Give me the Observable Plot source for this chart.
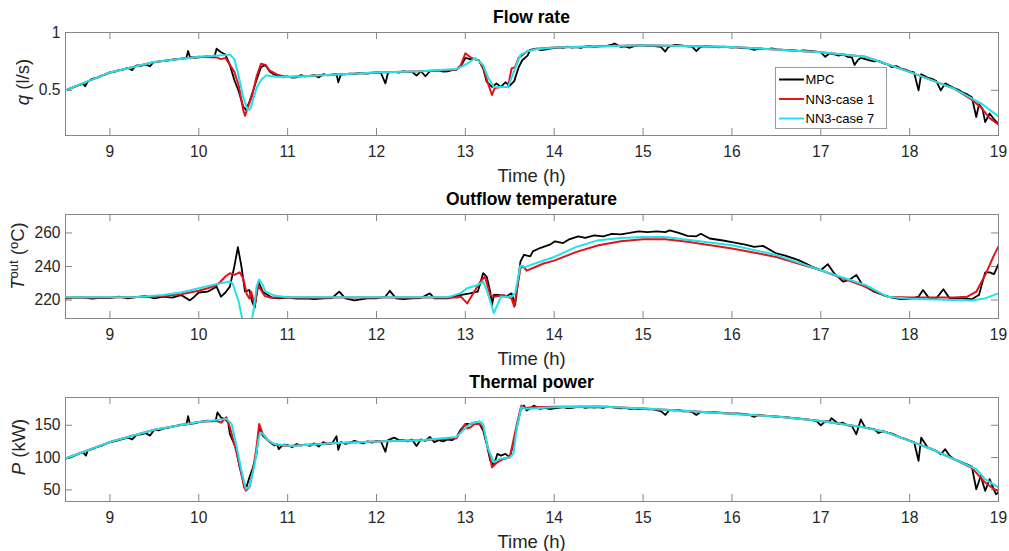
<!DOCTYPE html>
<html>
<head>
<meta charset="utf-8">
<script src="https://cdn.jsdelivr.net/npm/d3@7"></script>
<script src="https://cdn.jsdelivr.net/npm/@observablehq/plot@0.6"></script>
<style>
  html, body { margin: 0; padding: 0; background: #fff; }
  #wrap { position: relative; width: 1009px; height: 551px; font-family: "Liberation Sans", Arial, sans-serif; }
  #wrap > svg, #wrap > figure { position: absolute; left: 0; margin: 0; }
</style>
</head>
<body>
<div id="wrap"></div>
<script>
// ---------- Data: [time (h), value] ----------
const xTicks = [9, 10, 11, 12, 13, 14, 15, 16, 17, 18, 19];
const seriesNames = ["MPC", "NN3-case 1", "NN3-case 7"];
const seriesColors = ["#000000", "#e3121b", "#1fe2ea"];

// Flow rate q (l/s)
const qMPC = [[8.5,0.50],[8.55,0.515],[8.6,0.53],[8.65,0.545],[8.7,0.555],[8.72,0.535],[8.75,0.575],[8.8,0.60],[8.85,0.607],[8.9,0.625],[8.95,0.637],[9.0,0.655],[9.05,0.66],[9.1,0.675],[9.15,0.68],[9.2,0.695],[9.25,0.675],[9.28,0.705],[9.3,0.715],[9.35,0.712],[9.4,0.725],[9.45,0.708],[9.48,0.735],[9.5,0.745],[9.55,0.748],[9.6,0.755],[9.65,0.758],[9.7,0.765],[9.75,0.77],[9.8,0.775],[9.86,0.78],[9.88,0.84],[9.9,0.79],[9.95,0.782],[10.0,0.785],[10.05,0.79],[10.1,0.795],[10.15,0.792],[10.18,0.80],[10.2,0.86],[10.25,0.83],[10.3,0.81],[10.35,0.72],[10.4,0.59],[10.45,0.49],[10.5,0.36],[10.53,0.33],[10.57,0.40],[10.6,0.47],[10.65,0.59],[10.7,0.70],[10.75,0.72],[10.8,0.66],[10.85,0.635],[10.9,0.63],[10.95,0.612],[11.0,0.62],[11.05,0.61],[11.1,0.613],[11.15,0.632],[11.2,0.62],[11.25,0.626],[11.3,0.632],[11.35,0.612],[11.4,0.64],[11.45,0.63],[11.5,0.635],[11.55,0.64],[11.57,0.57],[11.6,0.64],[11.65,0.638],[11.7,0.645],[11.75,0.64],[11.8,0.652],[11.85,0.648],[11.9,0.645],[11.95,0.652],[12.0,0.655],[12.05,0.65],[12.1,0.56],[12.13,0.655],[12.2,0.66],[12.25,0.654],[12.3,0.665],[12.35,0.66],[12.4,0.66],[12.45,0.628],[12.5,0.665],[12.55,0.622],[12.6,0.665],[12.65,0.668],[12.7,0.672],[12.75,0.662],[12.8,0.665],[12.85,0.675],[12.9,0.68],[12.95,0.71],[13.0,0.78],[13.05,0.77],[13.1,0.772],[13.15,0.76],[13.2,0.69],[13.24,0.575],[13.3,0.53],[13.35,0.56],[13.4,0.53],[13.45,0.57],[13.5,0.54],[13.55,0.58],[13.6,0.70],[13.64,0.76],[13.7,0.80],[13.73,0.85],[13.8,0.86],[13.85,0.848],[13.9,0.852],[13.95,0.86],[14.0,0.865],[14.05,0.872],[14.1,0.868],[14.15,0.878],[14.2,0.87],[14.25,0.874],[14.3,0.868],[14.35,0.878],[14.4,0.882],[14.45,0.876],[14.5,0.88],[14.55,0.884],[14.6,0.886],[14.65,0.895],[14.68,0.905],[14.72,0.888],[14.75,0.875],[14.8,0.88],[14.85,0.868],[14.9,0.882],[14.95,0.888],[15.0,0.89],[15.05,0.882],[15.1,0.887],[15.15,0.88],[15.2,0.876],[15.25,0.835],[15.28,0.87],[15.3,0.88],[15.35,0.892],[15.4,0.89],[15.45,0.886],[15.5,0.88],[15.55,0.878],[15.6,0.84],[15.63,0.865],[15.65,0.875],[15.7,0.882],[15.8,0.876],[15.85,0.872],[15.9,0.878],[16.0,0.87],[16.05,0.874],[16.1,0.866],[16.2,0.862],[16.25,0.85],[16.3,0.86],[16.4,0.856],[16.45,0.862],[16.5,0.855],[16.6,0.85],[16.7,0.845],[16.75,0.84],[16.8,0.846],[16.9,0.838],[17.0,0.83],[17.05,0.79],[17.1,0.82],[17.15,0.812],[17.2,0.80],[17.25,0.81],[17.3,0.79],[17.35,0.785],[17.38,0.72],[17.42,0.765],[17.45,0.78],[17.5,0.77],[17.55,0.76],[17.6,0.75],[17.65,0.755],[17.7,0.735],[17.75,0.725],[17.8,0.70],[17.85,0.71],[17.9,0.69],[17.95,0.68],[18.0,0.665],[18.05,0.655],[18.1,0.50],[18.13,0.64],[18.2,0.61],[18.25,0.60],[18.3,0.58],[18.35,0.50],[18.4,0.56],[18.45,0.54],[18.5,0.52],[18.55,0.505],[18.6,0.48],[18.65,0.465],[18.7,0.44],[18.75,0.27],[18.78,0.38],[18.82,0.34],[18.85,0.225],[18.9,0.30],[18.95,0.25],[19.0,0.21]];
const qNN1 = [[8.5,0.50],[9.0,0.655],[9.5,0.745],[10.0,0.79],[10.2,0.785],[10.25,0.77],[10.3,0.78],[10.35,0.72],[10.4,0.66],[10.45,0.54],[10.5,0.33],[10.52,0.28],[10.55,0.35],[10.6,0.45],[10.65,0.62],[10.7,0.73],[10.75,0.72],[10.8,0.67],[10.9,0.63],[11.0,0.615],[11.5,0.635],[12.0,0.655],[12.5,0.665],[12.9,0.68],[12.95,0.72],[13.0,0.82],[13.05,0.79],[13.1,0.77],[13.15,0.76],[13.2,0.70],[13.25,0.57],[13.3,0.46],[13.33,0.52],[13.4,0.53],[13.48,0.53],[13.52,0.69],[13.56,0.70],[13.6,0.78],[13.7,0.84],[13.8,0.86],[14.0,0.87],[15.0,0.89],[16.0,0.875],[17.0,0.83],[17.5,0.79],[18.0,0.66],[18.5,0.515],[18.7,0.42],[18.8,0.355],[18.9,0.26],[19.0,0.205]];
const qNN7 = [[8.5,0.50],[9.0,0.655],[9.5,0.745],[10.0,0.79],[10.3,0.805],[10.35,0.81],[10.4,0.77],[10.45,0.62],[10.5,0.44],[10.55,0.33],[10.58,0.34],[10.62,0.44],[10.65,0.52],[10.7,0.59],[10.76,0.63],[10.8,0.625],[10.9,0.615],[11.0,0.615],[11.5,0.635],[12.0,0.655],[12.5,0.665],[12.9,0.685],[13.0,0.72],[13.11,0.78],[13.2,0.72],[13.25,0.62],[13.32,0.53],[13.48,0.53],[13.56,0.69],[13.62,0.806],[13.69,0.835],[13.8,0.855],[14.0,0.87],[15.0,0.89],[16.0,0.875],[17.0,0.83],[17.5,0.79],[18.0,0.66],[18.5,0.515],[18.75,0.41],[18.8,0.39],[19.0,0.275]];

// Outflow temperature T_out (°C)
const tMPC = [[8.5,221],[8.6,221.4],[8.7,221.5],[8.8,220.8],[8.9,221.3],[9.0,221.2],[9.1,222],[9.2,221],[9.3,221.8],[9.4,222.5],[9.5,221],[9.6,222],[9.7,221.5],[9.8,223],[9.9,219.8],[9.95,222],[10.0,224.5],[10.1,225],[10.2,228],[10.25,222],[10.3,224.5],[10.35,228],[10.4,240],[10.44,251.5],[10.48,240],[10.52,225],[10.57,226],[10.6,219],[10.63,215.5],[10.67,231],[10.72,225],[10.82,221.5],[10.9,221],[11.0,221.5],[11.1,220.8],[11.2,221],[11.3,220.5],[11.4,221],[11.5,221.2],[11.58,225],[11.65,221],[11.75,219.8],[11.9,221],[12.0,221],[12.1,222],[12.15,225.5],[12.22,221],[12.3,220.6],[12.4,221],[12.5,221.2],[12.6,224],[12.65,221],[12.8,221],[12.94,223],[13.05,224],[13.14,225],[13.2,236],[13.24,234],[13.28,225],[13.3,217],[13.32,223],[13.38,223],[13.45,222],[13.52,224],[13.56,217],[13.62,243],[13.66,247],[13.73,246],[13.76,249],[13.84,251],[13.95,253],[14.01,255],[14.1,254],[14.16,256],[14.27,258],[14.35,257],[14.45,258.5],[14.55,258],[14.65,259.5],[14.75,259.2],[14.85,260],[14.95,261],[15.05,260.5],[15.15,261],[15.25,260.5],[15.3,261.5],[15.4,260],[15.5,258.2],[15.6,258],[15.65,259.5],[15.75,256.7],[15.9,255.5],[16.0,254.5],[16.15,253],[16.25,251.7],[16.35,252.3],[16.5,247.8],[16.6,246.5],[16.75,243.8],[16.9,240],[17.0,237.8],[17.08,241.4],[17.15,236],[17.25,231],[17.32,232],[17.4,235],[17.47,229],[17.6,225],[17.7,223],[17.8,221.5],[17.9,220.5],[18.0,220.5],[18.1,222],[18.15,226],[18.22,221],[18.3,221],[18.38,226.4],[18.45,221],[18.6,221],[18.7,220.5],[18.78,223],[18.85,236.5],[18.9,236.5],[18.95,235.5],[19.0,241.4]];
const tNN1 = [[8.5,221.5],[9.0,221.5],[9.5,222],[9.8,223.5],[10.0,225.5],[10.1,227],[10.2,229],[10.24,230.8],[10.3,234],[10.35,236],[10.4,235],[10.46,236.5],[10.5,233],[10.54,223.5],[10.57,221],[10.59,225],[10.63,217],[10.67,229],[10.7,226],[10.74,222.5],[10.8,221.5],[11.0,221.5],[12.9,221.5],[12.95,222],[13.02,218],[13.1,225],[13.17,231],[13.22,234],[13.28,222.8],[13.33,222],[13.43,223],[13.52,221],[13.55,216],[13.62,239],[13.65,240],[13.69,237.5],[13.8,240],[13.88,241.8],[14.0,243.5],[14.25,248.7],[14.5,252.7],[14.75,255],[15.0,256.2],[15.25,256.2],[15.5,254.7],[16.0,250.7],[16.5,245.7],[17.0,237.8],[17.5,228],[17.75,222],[18.0,221.5],[18.5,221.5],[18.65,222],[18.75,225],[18.85,234.9],[18.95,246.8],[19.0,252]];
const tNN7 = [[8.5,221.6],[9.0,221.6],[9.3,221.8],[9.6,223],[9.8,224.5],[10.0,227],[10.2,229.5],[10.35,231],[10.38,230],[10.45,219],[10.48,211],[10.52,203],[10.56,200],[10.59,206],[10.62,215],[10.65,228],[10.68,232.3],[10.72,229],[10.75,225],[10.86,222.5],[11.0,221.6],[12.8,221.6],[12.94,224],[13.02,227],[13.14,229],[13.2,231],[13.24,226],[13.3,216],[13.32,212.3],[13.36,217],[13.4,222],[13.52,222],[13.56,224],[13.62,240.6],[13.67,239.6],[13.88,243.6],[14.0,245.7],[14.25,251.7],[14.5,255.7],[14.75,257],[15.0,257.6],[15.25,257.6],[15.5,256],[16.0,252.7],[16.5,246.8],[17.0,237.8],[17.5,229],[17.75,222],[18.0,220.8],[18.5,220],[18.7,219.7],[18.85,221],[19.0,224]];

// Thermal power P (kW)
const pMPC = [[8.5,98.5],[8.55,100],[8.6,103],[8.65,106],[8.7,108],[8.73,103],[8.75,111],[8.8,113],[8.85,116],[8.9,118],[8.95,121],[9.0,124],[9.05,125],[9.1,127],[9.15,129],[9.2,131],[9.25,128],[9.3,135],[9.35,136],[9.4,138],[9.45,134],[9.5,143],[9.55,142],[9.6,145],[9.65,146],[9.7,148],[9.75,149],[9.8,151],[9.86,151],[9.88,164],[9.9,152],[9.95,153],[10.0,155],[10.05,156],[10.1,157],[10.15,156],[10.19,157],[10.21,170],[10.25,162],[10.3,159],[10.33,154.6],[10.35,136.7],[10.38,126.8],[10.42,113.5],[10.46,85],[10.5,64.4],[10.53,51.5],[10.57,69.5],[10.61,85],[10.65,105.7],[10.68,146.9],[10.72,134],[10.78,126.3],[10.85,118.6],[10.88,121],[10.9,113],[10.95,120],[11.0,119.5],[11.05,116],[11.1,121],[11.15,119],[11.2,120],[11.25,118],[11.3,122],[11.35,117],[11.4,124],[11.45,121],[11.5,122],[11.55,133],[11.57,112],[11.6,124],[11.65,121],[11.7,123],[11.75,126],[11.8,124],[11.85,122],[11.9,125],[11.95,123],[12.0,126],[12.05,125],[12.1,109],[12.13,127],[12.2,131],[12.25,127],[12.3,127],[12.35,125],[12.4,128],[12.45,118],[12.5,128],[12.55,126],[12.6,132],[12.65,124],[12.7,127],[12.75,125],[12.8,128],[12.85,127],[12.9,131],[12.94,141.8],[13.0,152],[13.05,152],[13.11,154.6],[13.16,152],[13.2,141.8],[13.24,121],[13.28,95.4],[13.32,87.6],[13.36,105.7],[13.4,103],[13.45,105.7],[13.5,100.5],[13.54,121],[13.58,146.9],[13.62,172.8],[13.66,180.5],[13.69,172.8],[13.73,176],[13.77,180.5],[13.84,175.4],[13.9,177],[13.95,175],[14.0,176],[14.05,177],[14.1,178],[14.15,176.5],[14.2,177],[14.25,178],[14.3,179],[14.35,177],[14.4,178],[14.45,177.5],[14.5,178],[14.55,177],[14.6,179],[14.65,178],[14.7,177],[14.75,176],[14.8,177],[14.85,175.5],[14.9,176],[14.95,175],[15.0,175.8],[15.05,174.5],[15.1,175],[15.15,173.5],[15.2,172],[15.25,166],[15.3,174],[15.35,173],[15.4,174],[15.45,171.5],[15.5,172],[15.55,170.5],[15.6,166],[15.65,171],[15.7,170],[15.8,170.5],[15.9,169],[16.0,168],[16.05,168.5],[16.1,168],[16.2,166],[16.25,163],[16.3,166],[16.4,164.5],[16.5,163.4],[16.6,162.5],[16.7,161],[16.8,160],[16.9,158],[16.95,157],[17.0,150],[17.05,156],[17.1,156],[17.12,161],[17.2,152],[17.25,154],[17.3,150],[17.35,149],[17.4,136],[17.45,159],[17.5,146.4],[17.55,145],[17.6,144],[17.65,138],[17.7,141],[17.75,138.7],[17.8,137],[17.85,134],[17.9,131],[17.95,129],[18.0,126],[18.05,124],[18.1,95],[18.13,131],[18.2,116],[18.25,113],[18.3,110],[18.35,105],[18.4,113],[18.45,103],[18.5,97.4],[18.55,95],[18.6,92],[18.65,89],[18.7,86],[18.75,51],[18.8,71.6],[18.85,48.5],[18.9,66.5],[18.97,43.3],[19.0,45.9]];
const pNN1 = [[8.5,98.5],[9.0,124],[9.5,143],[10.0,155],[10.2,157],[10.25,154],[10.31,162.4],[10.35,147],[10.38,131.4],[10.42,110.8],[10.48,74.8],[10.51,54],[10.53,48.9],[10.57,54],[10.61,79.9],[10.65,116],[10.68,152],[10.72,136.7],[10.78,126.8],[10.85,120],[11.0,118],[11.5,122],[12.0,125],[12.5,127],[12.9,130],[13.0,152],[13.02,145],[13.06,147],[13.1,152],[13.16,152],[13.2,146.9],[13.27,105.7],[13.3,85],[13.36,92.7],[13.43,97.9],[13.5,100.5],[13.54,126.3],[13.58,152],[13.63,180.5],[13.67,176.6],[13.77,178],[14.0,178.5],[14.5,178.9],[15.0,175.8],[15.5,172.2],[16.0,168],[16.5,163.4],[17.0,156.7],[17.5,146.4],[17.75,138.7],[18.0,125.8],[18.25,112.9],[18.5,97.4],[18.7,84],[18.85,61.3],[18.95,51],[19.0,48.5]];
const pNN7 = [[8.5,98.5],[9.0,124],[9.5,143],[10.0,155],[10.31,159.9],[10.37,152],[10.42,121],[10.48,80],[10.53,51.5],[10.57,54],[10.63,90.2],[10.67,126.3],[10.69,139],[10.72,136.7],[10.78,126.8],[10.85,121],[11.04,118],[11.5,122],[12.0,125],[12.5,127],[12.9,132],[13.05,152],[13.16,156.2],[13.2,152],[13.25,116],[13.32,92.7],[13.38,97.9],[13.5,100.5],[13.54,105.7],[13.58,146.9],[13.63,178],[13.69,175.4],[14.0,178],[14.5,178.9],[15.0,175.8],[15.5,172.2],[16.0,168],[16.5,163.4],[17.0,156.7],[17.5,146.4],[17.75,138.7],[18.0,125.8],[18.25,112.9],[18.5,97.4],[18.75,82],[18.85,66.5],[19.0,53.6]];

const panels = [
  {title: "Flow rate", top: 0, height: 185, mt: 32, mb: 50, domain: [0.11, 1], yTicks: [0.5, 1],
   series: [qMPC, qNN1, qNN7], ylabel: [["q", "italic"], [" (l/s)", null]], ylabX: 29, ylabY: 82},
  {title: "Outflow temperature", top: 185, height: 180, mt: 29, mb: 47, domain: [209, 271], yTicks: [220, 240, 260],
   series: [tMPC, tNN1, tNN7], ylabel: [["T", "italic"], ["out", "sup"], [" (", null], ["o", "sup"], ["C)", "base"]], ylabX: 24, ylabY: 71},
  {title: "Thermal power", top: 365, height: 186, mt: 32, mb: 50, domain: [32, 193], yTicks: [50, 100, 150],
   series: [pMPC, pNN1, pNN7], ylabel: [["P", "italic"], [" (kW)", null]], ylabX: 25, ylabY: 82}
];

// ---------- Rendering ----------
const W = 1009, ML = 65, MR = 11;
const innerW = W - ML - MR;
const axisColor = "#868686", textColor = "#262626", TL = 7;
const wrap = document.getElementById("wrap");

panels.forEach((p, pi) => {
  const innerH = p.height - p.mt - p.mb;
  const marks = [
    Plot.frame({stroke: axisColor, strokeWidth: 1}),
    Plot.tickX(xTicks, {x: d => d, stroke: axisColor, insetTop: innerH - TL}),
    Plot.tickX(xTicks, {x: d => d, stroke: axisColor, insetBottom: innerH - TL}),
    Plot.tickY(p.yTicks, {y: d => d, stroke: axisColor, insetRight: innerW - TL}),
    Plot.tickY(p.yTicks, {y: d => d, stroke: axisColor, insetLeft: innerW - TL}),
    Plot.axisX({ticks: xTicks, tickSize: 0, tickPadding: 10, fontSize: 15.6, label: null, tickFormat: d => String(d), color: textColor}),
    Plot.axisY({ticks: p.yTicks, tickSize: 0, tickPadding: 5, fontSize: 15.6, label: null, tickFormat: d => String(d), color: textColor}),
    ...p.series.map((s, i) => Plot.line(s, {x: d => d[0], y: d => d[1], stroke: seriesColors[i], strokeWidth: i === 0 ? 1.8 : 2, clip: true}))
  ];
  const svg = Plot.plot({
    width: W, height: p.height,
    marginLeft: ML, marginRight: MR, marginTop: p.mt, marginBottom: p.mb,
    style: {fontFamily: "'Liberation Sans', Arial, sans-serif", background: "transparent", overflow: "visible"},
    x: {domain: [8.5, 19]},
    y: {domain: p.domain},
    marks
  });
  svg.style.top = p.top + "px";
  wrap.appendChild(svg);
  const s = d3.select(svg);
  // title
  s.append("text").attr("x", ML + innerW / 2).attr("y", p.mt - 9)
    .attr("text-anchor", "middle").attr("font-weight", "bold").attr("font-size", 17.5)
    .attr("fill", "#000").text(p.title);
  // x label
  s.append("text").attr("x", ML + innerW / 2).attr("y", p.height - p.mb + 46.5)
    .attr("text-anchor", "middle").attr("font-size", 18.5).attr("fill", textColor).text("Time (h)");
  // y label
  const yl = s.append("text").attr("transform", `translate(${p.ylabX},${p.ylabY}) rotate(-90)`)
    .attr("text-anchor", "middle").attr("font-size", 18.5).attr("fill", textColor);
  p.ylabel.forEach(([txt, kind]) => {
    const ts = yl.append("tspan").text(txt);
    if (kind === "italic") ts.attr("font-style", "italic");
    if (kind === "sup") ts.attr("font-size", 13).attr("baseline-shift", "6");
  });
  // legend in first panel
  if (pi === 0) {
    const g = s.append("g").attr("text-anchor", "start");
    g.append("rect").attr("x", 775.5).attr("y", 67.5).attr("width", 111).attr("height", 61)
      .attr("fill", "#fff").attr("stroke", "#9a9a9a").attr("stroke-width", 1);
    seriesNames.forEach((n, i) => {
      const y = 79.5 + i * 19.5;
      g.append("line").attr("x1", 779).attr("x2", 804).attr("y1", y).attr("y2", y)
        .attr("stroke", seriesColors[i]).attr("stroke-width", 2);
      g.append("text").attr("x", 805.5).attr("y", y).attr("dy", "0.36em")
        .attr("text-anchor", "start").attr("font-size", 13).attr("fill", "#000").text(n);
    });
  }
});
</script>
</body>
</html>
